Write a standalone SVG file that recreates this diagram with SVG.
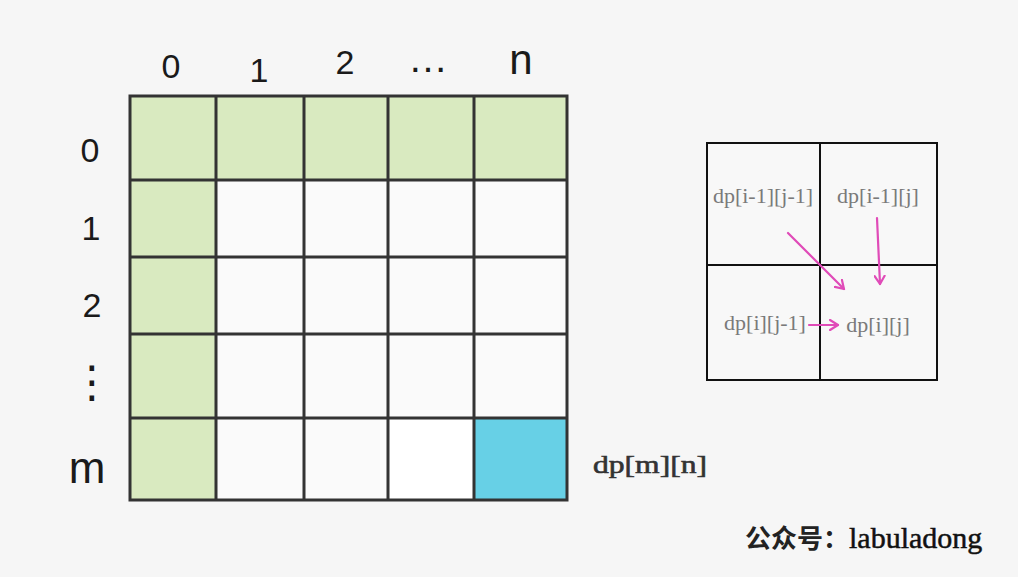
<svg xmlns="http://www.w3.org/2000/svg" width="1018" height="577" viewBox="0 0 1018 577">
<style>
.hand{font-family:"Liberation Sans","DejaVu Sans",sans-serif;font-size:34px;fill:#1a1a1a;text-anchor:middle}
.grid{stroke:#333;stroke-width:3;fill:none}
.g{fill:#d9eac0}
.w{fill:#fafafa}
.dp{font-family:"Liberation Serif","DejaVu Serif",serif;font-size:22px;fill:#7a7a7a;text-anchor:middle}
.pk{stroke:#e04bb8;stroke-width:2.2;fill:none;stroke-linecap:round;stroke-linejoin:round}
</style>
<defs>
<marker id="ah" markerWidth="12" markerHeight="12" refX="9" refY="6" orient="auto" markerUnits="userSpaceOnUse">
<path d="M1,1 L9,6 L1,11" fill="none" stroke="#e04bb8" stroke-width="2.2" stroke-linecap="round" stroke-linejoin="round"/>
</marker>
</defs>
<rect width="1018" height="577" fill="#f6f6f6"/>
<g id="col-labels">
<text class="hand" x="171" y="78">0</text>
<text class="hand" x="259" y="82">1</text>
<text class="hand" x="345" y="74">2</text>
<text class="hand" x="428" y="72" style="font-size:40px">…</text>
<text class="hand" x="521" y="74" style="font-size:42px">n</text>
</g>
<g id="row-labels">
<text class="hand" x="90" y="162">0</text>
<text class="hand" x="91" y="240">1</text>
<text class="hand" x="92" y="317">2</text>
<text class="hand" x="92" y="397" style="font-size:44px">⋮</text>
<text class="hand" x="87" y="483" style="font-size:44px">m</text>
</g>
<g id="dp-table">
<rect class="w" x="130" y="96" width="437" height="404"/>
<rect class="g" x="130" y="96" width="437" height="84"/>
<rect class="g" x="130" y="96" width="86" height="404"/>
<rect fill="#ffffff" x="388" y="418" width="86" height="82"/>
<rect fill="#67d0e6" x="474" y="418" width="93" height="82"/>
<path class="grid" d="M216,96V500M304,96V500M388,96V500M474,96V500M130,180H567M130,257H567M130,334H567M130,418H567"/>
<rect class="grid" x="130" y="96" width="437" height="404" stroke-width="3.5"/>
</g>
<g id="label-dpmn">
<text x="593" y="473" font-family="'Liberation Serif','DejaVu Serif',serif" font-size="25" fill="#333" stroke="#333" stroke-width="0.6" textLength="114" lengthAdjust="spacingAndGlyphs">dp[m][n]</text>
</g>
<g id="mini-grid">
<rect x="707" y="143" width="230" height="237" fill="#f8f8f8" stroke="#111" stroke-width="2"/>
<path d="M820,143V380M707,265H937" stroke="#111" stroke-width="2" fill="none"/>
</g>
<g id="cell-tl"><text class="dp" x="763" y="203">dp[i-1][j-1]</text></g>
<g id="cell-tr"><text class="dp" x="878" y="203">dp[i-1][j]</text></g>
<g id="cell-bl"><text class="dp" x="765" y="330">dp[i][j-1]</text></g>
<g id="cell-br"><text class="dp" x="878" y="332">dp[i][j]</text></g>
<g id="connectors">
<path class="pk" d="M788,233 L844,289" marker-end="url(#ah)"/>
<path class="pk" d="M877,218 L880,284" marker-end="url(#ah)"/>
<path class="pk" d="M809,325 L838,325" marker-end="url(#ah)"/>
</g>
<g id="watermark">
<text x="745" y="548" font-family="'Liberation Serif','Noto Sans CJK SC',serif" font-size="26" font-weight="bold" fill="#222"><tspan font-family="'Noto Sans CJK SC',sans-serif" font-size="26">公众号：</tspan><tspan font-size="30" font-weight="normal" fill="#111" stroke="#111" stroke-width="0.5">labuladong</tspan></text>
</g>
</svg>
